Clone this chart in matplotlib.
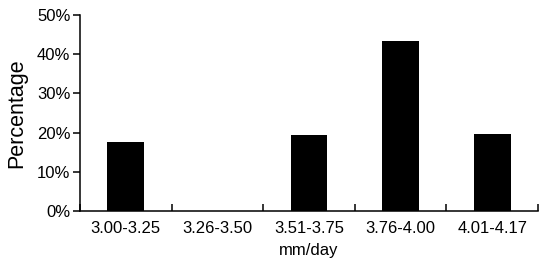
import numpy as np
import matplotlib.pyplot as plt
from matplotlib.ticker import FuncFormatter, FixedLocator

plt.rcParams['font.family'] = ['Liberation Sans', 'DejaVu Sans']

# Data
categories = ['3.00-3.25', '3.26-3.50', '3.51-3.75', '3.76-4.00', '4.01-4.17']
percent = [17.5, 0.0, 19.3, 43.4, 19.6]

fig = plt.figure(figsize=(5.5, 2.69), dpi=100)
ax = fig.add_axes([80/550, 1 - 211/269, 458/550, 196/269])

x = np.arange(len(categories))
ax.bar(x, percent, width=0.4, color='black')

ax.set_xlim(-0.5, len(categories) - 0.5)
ax.set_ylim(0, 50)
ax.set_yticks(np.arange(0, 51, 10))
ax.yaxis.set_major_formatter(FuncFormatter(lambda v, p: f'{v:.0f}%'))

ax.set_xticks(x)
ax.set_xticklabels(categories)
ax.xaxis.set_minor_locator(FixedLocator(np.arange(-0.5, len(categories), 1.0)))

for s in ['top', 'right']:
    ax.spines[s].set_visible(False)
for s in ['left', 'bottom']:
    ax.spines[s].set_linewidth(1.1)

ax.tick_params(axis='y', direction='out', length=5, width=1.1, labelsize=12, pad=2)
ax.tick_params(axis='x', which='major', length=0, labelsize=12, pad=7)
ax.tick_params(axis='x', which='minor', direction='in', length=5, width=1.1)

ax.set_ylabel('Percentage', fontsize=15.5, labelpad=7)
ax.set_xlabel('mm/day', fontsize=12, labelpad=5)

fig.savefig('out.png', dpi=100)
